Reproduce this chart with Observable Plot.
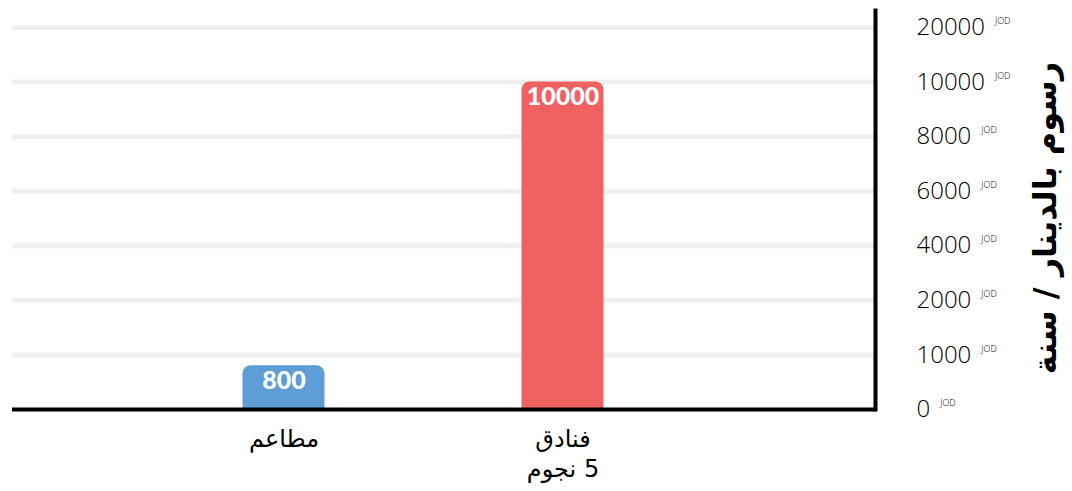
<!DOCTYPE html>
<html>
<head>
<meta charset="utf-8">
<script src="https://cdn.jsdelivr.net/npm/d3@7"></script>
<script src="https://cdn.jsdelivr.net/npm/@observablehq/plot@0.6"></script>
<style>
  html, body { margin: 0; padding: 0; background: #fff; }
  #chart svg { display: block; }
</style>
</head>
<body>
<div id="chart"></div>
<script>
const categories = ["مطاعم", "فنادق\n5 نجوم"];
const values = [800, 10000];
const colors = ["#5e9dd5", "#f06262"];
const yTicks = [0, 1000, 2000, 4000, 6000, 8000, 10000, 20000];
const tickUnit = "JOD";
const yTitle = "رسوم بالدينار / سنة";

// piecewise (evenly spaced ticks) value -> tick-index mapping
const toIndex = d3.scaleLinear(yTicks, d3.range(yTicks.length));
const data = categories.map((c, i) => ({category: c, value: values[i], color: colors[i]}));

const chart = Plot.plot({
  width: 1072,
  height: 491,
  marginLeft: 12,
  marginRight: 197,
  marginTop: 10,
  marginBottom: 82,
  style: {fontFamily: "'Open Sans', sans-serif", color: "#000"},
  x: {domain: categories, range: [143.5, 701.5], padding: 0},
  y: {domain: [0, 7.31]},
  color: {type: "identity"},
  marks: [
    Plot.ruleY(yTicks.slice(1), {y: d => toIndex(d), stroke: "#efefef", strokeWidth: 5}),
    Plot.barY(data, {x: "category", y: d => toIndex(d.value), fill: "color", insetLeft: 98.5, insetRight: 98.5, ry1: 8}),
    Plot.text(data, {x: "category", y: d => toIndex(d.value), text: d => String(d.value), dy: 15,
      fill: "white", fontSize: 25, fontWeight: 900, fontFamily: "Lato, sans-serif"}),
    Plot.ruleY([0], {stroke: "#000", strokeWidth: 4}),
    Plot.frame({anchor: "right", stroke: "#000", strokeWidth: 4}),
    Plot.axisX({tickSize: 0, tickPadding: 16, fontSize: 24, lineHeight: 1.25,
      fontFamily: "'DejaVu Sans', sans-serif", fill: "#000", label: null}),
    Plot.axisY(yTicks.map(d => toIndex(d)), {anchor: "right", tickSize: 0, tickPadding: 41, fontSize: 24,
      fontWeight: 300, fill: "#000", textAnchor: "start", label: null, tickFormat: i => String(yTicks[Math.round(i)])}),
    Plot.text([yTitle], {frameAnchor: "right", textAnchor: "middle", rotate: -90, dx: 170, dy: 8,
      fontSize: 32, fontWeight: "bold", fontFamily: "'DejaVu Sans', sans-serif", fill: "#000"})
  ]
});

document.getElementById("chart").appendChild(chart);

const svg = d3.select(chart);
svg.selectAll("g[aria-label='x-axis tick label'] text").attr("direction", "rtl");
svg.selectAll("g[aria-label='y-axis tick label'] text").each(function() {
  d3.select(this).append("tspan")
    .attr("dx", 10)
    .attr("dy", -11)
    .attr("font-size", 9)
    .text(tickUnit);
});
</script>
</body>
</html>
